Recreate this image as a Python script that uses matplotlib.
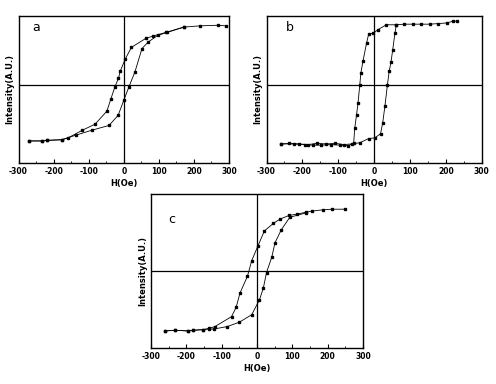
import numpy as np
import matplotlib.pyplot as plt
from matplotlib.ticker import MultipleLocator

# ---- panel a: H (Oe) and normalized intensity, two branches of the loop
a_h_desc = [291, 268, 218, 172, 120, 84, 63, 22, 4, -10, -15, -25, -37, -48,
            -82, -118, -159, -177, -219, -234, -269]
a_m_desc = [1.00, 1.01, 1.00, 0.98, 0.89, 0.83, 0.79, 0.64, 0.44, 0.24, 0.12,
            -0.02, -0.23, -0.43, -0.65, -0.75, -0.88, -0.91, -0.92, -0.93, -0.93]
a_h_asc = [-269, -234, -219, -177, -135, -91, -42, -16, 0, 15, 32, 52, 70, 97,
           124, 172]
a_m_asc = [-0.93, -0.93, -0.92, -0.91, -0.83, -0.75, -0.67, -0.50, -0.25, -0.02,
           0.23, 0.62, 0.73, 0.84, 0.89, 0.98]

# ---- panel b
b_h_desc = [232, 221, 202, 179, 155, 132, 109, 84, 62, 34, 11, -3, -15, -21,
            -31, -37, -40, -45, -49, -54, -57, -73, -96, -119, -147, -170, -194,
            -223, -259]
b_m_desc = [1.06, 1.06, 1.03, 1.02, 1.01, 1.01, 1.01, 1.01, 1.00, 1.00, 0.92,
            0.86, 0.85, 0.70, 0.40, 0.20, 0.00, -0.30, -0.49, -0.71, -0.96,
            -1.00, -0.99, -0.98, -0.99, -0.99, -0.98, -0.97, -0.97]
b_h_asc = [-259, -236, -210, -183, -160, -133, -108, -85, -62, -40, -15, 2, 18,
           24, 30, 37, 42, 47, 52, 58, 62]
b_m_asc = [-0.97, -0.96, -0.97, -0.98, -0.96, -0.97, -0.96, -0.98, -0.97, -0.95,
           -0.88, -0.87, -0.80, -0.62, -0.35, 0.00, 0.23, 0.38, 0.59, 0.86, 1.00]

# ---- panel c
c_h_desc = [249, 211, 186, 155, 138, 112, 91, 65, 46, 21, 2, -15, -27, -48,
            -59, -72, -119, -136, -154, -180, -196, -231, -260]
c_m_desc = [1.00, 1.00, 0.99, 0.97, 0.95, 0.92, 0.90, 0.84, 0.77, 0.65, 0.40,
            0.17, -0.08, -0.35, -0.58, -0.73, -0.89, -0.92, -0.94, -0.95, -0.96,
            -0.95, -0.96]
c_h_asc = [-260, -231, -196, -180, -154, -137, -122, -84, -50, -15, 7, 18, 27,
           42, 51, 69, 93, 138]
c_m_asc = [-0.96, -0.95, -0.96, -0.95, -0.94, -0.93, -0.93, -0.89, -0.82, -0.70,
           -0.46, -0.27, -0.02, 0.23, 0.46, 0.67, 0.87, 0.94]

x_ticks = [-300, -200, -100, 0, 100, 200, 300]


def draw_panel(ax, branches, letter, ylim, letter_pos):
    for h, m in branches:
        ax.plot(h, m, color="black", lw=0.6, marker="s", ms=2.0,
                mfc="black", mec="black")
    ax.axhline(0, color="black", lw=0.9)
    ax.axvline(0, color="black", lw=0.9)
    ax.set_xlim(-300, 300)
    ax.set_ylim(*ylim)
    ax.set_xticks(x_ticks)
    ax.set_xticklabels([str(t) for t in x_ticks], fontsize=5.5,
                       fontweight="bold")
    ax.xaxis.set_minor_locator(MultipleLocator(50))
    ax.tick_params(axis="x", which="major", direction="in", length=3,
                   width=0.8, pad=3)
    ax.tick_params(axis="x", which="minor", direction="in", length=1.5,
                   width=0.6)
    ax.set_yticks([])
    ax.set_xlabel("H(Oe)", fontsize=6, fontweight="bold", labelpad=2)
    ax.set_ylabel("Intensity(A.U.)", fontsize=6, fontweight="bold", labelpad=3)
    for s in ax.spines.values():
        s.set_linewidth(1.0)
    ax.text(letter_pos[0], letter_pos[1], letter, transform=ax.transAxes,
            fontsize=9, va="center", ha="center")


fig = plt.figure(figsize=(4.96, 3.84), dpi=100)

ax_a = fig.add_axes([0.0373, 0.5755, 0.4244, 0.3836])
draw_panel(ax_a, [(a_h_desc, a_m_desc), (a_h_asc, a_m_asc)], "a",
           (-1.30, 1.17), (0.085, 0.92))

ax_b = fig.add_axes([0.5373, 0.5763, 0.4339, 0.3828])
draw_panel(ax_b, [(b_h_desc, b_m_desc), (b_h_asc, b_m_asc)], "b",
           (-1.28, 1.15), (0.11, 0.92))

ax_c = fig.add_axes([0.3044, 0.0930, 0.4274, 0.4026])
draw_panel(ax_c, [(c_h_desc, c_m_desc), (c_h_asc, c_m_asc)], "c",
           (-1.24, 1.25), (0.10, 0.83))

fig.savefig("out.png", dpi=100)
